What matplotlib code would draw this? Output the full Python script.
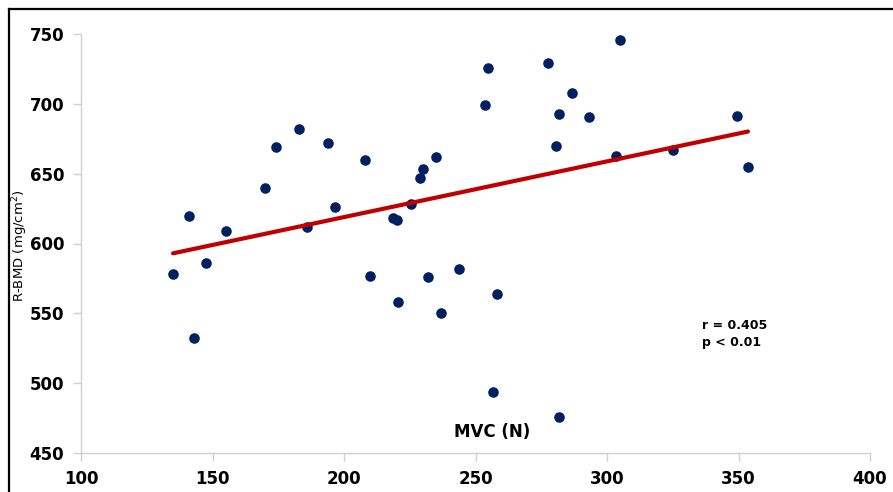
import numpy as np
import matplotlib
matplotlib.use("Agg")
import matplotlib.pyplot as plt
from matplotlib.lines import Line2D

# Data
mvc = [135, 141, 143, 147.5, 155, 170, 174, 183, 186, 194, 196.5, 208, 210,
       218.6, 220, 220.5, 225.5, 229, 230, 232, 235, 237, 243.7, 253.6, 254.8,
       256.7, 258, 277.6, 280.6, 281.7, 281.7, 286.7, 293, 303.4, 305, 325,
       349.4, 353.6]
bmd = [578, 620, 532, 586, 609, 640, 669, 682, 612, 672, 626, 660, 577,
       618, 617, 558, 628, 647, 653, 576, 662, 550, 582, 699, 726,
       494, 564, 729, 670, 476, 692.6, 708, 690.5, 662.6, 745.6, 667,
       691, 654.7]
trend_x = [135, 353.6]
trend_slope = 0.399
trend_intercept = 539.1
xticks = [100, 150, 200, 250, 300, 350, 400]
yticks = [450, 500, 550, 600, 650, 700, 750]

fig = plt.figure(figsize=(8.93, 4.92), dpi=100)
ax = fig.add_axes([81/893, 39/492, (870-81)/893, (453-34)/492])

ax.scatter(mvc, bmd, s=58, color="#002060", zorder=3, linewidths=0)
tx = np.array(trend_x)
ax.plot(tx, trend_intercept + trend_slope * tx, color="#C00000", lw=3,
        solid_capstyle="round", zorder=4)

ax.set_xlim(100, 400)
ax.set_ylim(450, 750)
ax.set_xticks(xticks)
ax.set_yticks(yticks)
for s in ["top", "right"]:
    ax.spines[s].set_visible(False)
for s in ["left", "bottom"]:
    ax.spines[s].set_color("#d0d0d0")
    ax.spines[s].set_linewidth(1)
ax.tick_params(axis="both", direction="out", length=6, width=1, color="#d0d0d0",
               labelsize=12, pad=6)
for lab in ax.get_xticklabels() + ax.get_yticklabels():
    lab.set_fontweight("bold")

fig.text(0.0225, 1 - 246/492, "R-BMD (mg/cm$^2$)",
         rotation=90, ha="center", va="center", fontsize=9.5, fontweight="medium")
fig.text(492/893, 1 - 432/492, "MVC (N)", ha="center", va="center", fontsize=12,
         fontweight="bold")
fig.text(702/893, 1 - 334/492, "r = 0.405\np < 0.01",
         ha="left", va="center", fontsize=9, fontweight="bold", linespacing=1.45)

fig.add_artist(Line2D([9/893, 1], [1 - 9/492, 1 - 9/492], color="black", lw=1.6,
                      transform=fig.transFigure))
fig.add_artist(Line2D([9/893, 9/893], [0, 1 - 9/492], color="black", lw=1.6,
                      transform=fig.transFigure))

fig.savefig("out.png", dpi=100)
